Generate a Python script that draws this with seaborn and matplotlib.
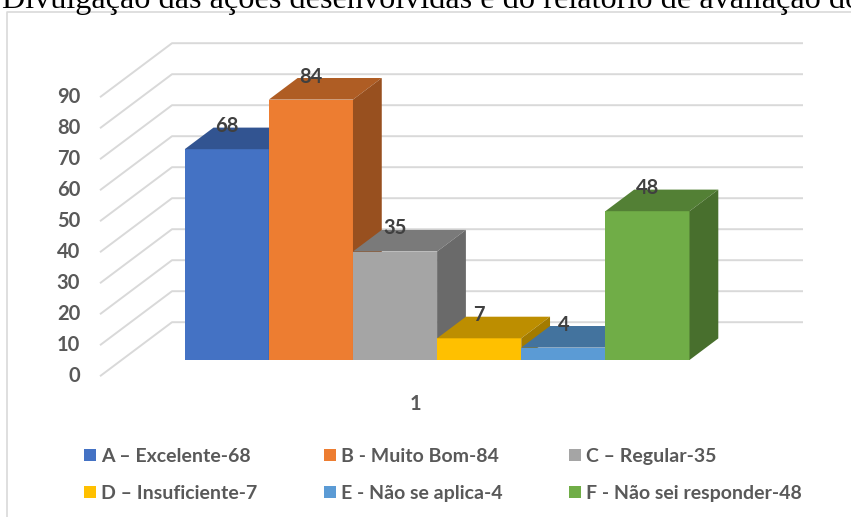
import numpy as np
import pandas as pd
import matplotlib
matplotlib.use("Agg")
import matplotlib.pyplot as plt
import seaborn as sns
from matplotlib.patches import Polygon, Patch
from matplotlib.lines import Line2D
import matplotlib.colors as mcolors

# ---------------- data ----------------
title = "Divulgação das ações desenvolvidas e do relatório de avaliação do"
category = "1"
series = ["A – Excelente-68", "B - Muito Bom-84", "C – Regular-35",
          "D – Insuficiente-7", "E - Não se aplica-4", "F - Não sei responder-48"]
values = [68, 84, 35, 7, 4, 48]
colors = ["#4472C4", "#ED7D31", "#A5A5A5", "#FFC000", "#5B9BD5", "#70AD47"]
yticks = [0, 10, 20, 30, 40, 50, 60, 70, 80, 90]

# ---------------- geometry (pixels) ----------------
W, H = 851, 517
X0PX, XSCALE = 121.6, 631.0      # pixel of x=-0.5, px per x unit
Y0PX, YSCALE = 360.0, 3.1        # pixel of value 0 (bar front), px per value unit
DX, DY = 72.0 / XSCALE, 54.0 / YSCALE   # full depth offset in data units
D_FRONT, D_BACK = 0.3, 0.7      # bar front/back depth fraction

sns.set_theme(style="white")
plt.rcParams["font.family"] = ["Lato", "DejaVu Sans"]

fig = plt.figure(figsize=(W / 100, H / 100), dpi=100)
ax = fig.add_axes([0, 0, 1, 1])

df = pd.DataFrame({"cat": [category] * len(values), "series": series, "value": values})
sns.barplot(data=df, x="cat", y="value", hue="series", hue_order=series,
            palette=colors, width=0.8, dodge=True, saturation=1,
            edgecolor="none", linewidth=0, ax=ax, legend=False, errorbar=None)

xmin = (0 - X0PX) / XSCALE - 0.5
xmax = (W - X0PX) / XSCALE - 0.5
ymin = (Y0PX - H) / YSCALE
ymax = Y0PX / YSCALE
ax.set_xlim(xmin, xmax)
ax.set_ylim(ymin, ymax)
ax.set_axis_off()

def shade(c, f):
    r, g, b = mcolors.to_rgb(c)
    return (r * f, g * f, b * f)

LABEL_FS = 14.5

# gridlines: floor-front -> back wall -> right
grid_c = "#d9d9d9"
xl_front = -0.5 - D_FRONT * DX
xl_back = -0.5 + (1 - D_FRONT) * DX
xr_back = 0.5 + (1 - D_FRONT) * DX
for t in yticks:
    vf = t - D_FRONT * DY
    vb = t + (1 - D_FRONT) * DY
    ax.plot([xl_front, xl_back, xr_back], [vf, vb, vb], color=grid_c, lw=1.4,
            zorder=1, solid_capstyle="butt")
    ax.text(xl_front - 20 / XSCALE, vf, str(t), ha="right", va="center",
            fontsize=LABEL_FS, fontweight="bold", color="#595959")

# category label
ax.text(0 - D_FRONT * DX, -D_FRONT * DY - 28 / YSCALE, category, ha="center",
        va="center", fontsize=LABEL_FS, fontweight="bold", color="#595959")

# 3D faces
bars = sorted(ax.patches, key=lambda p: p.get_x())
dd = D_BACK - D_FRONT
ox, oy = dd * DX, dd * DY
for i, (p, v, c) in enumerate(zip(bars, values, colors)):
    x0 = p.get_x()
    x1 = x0 + p.get_width()
    p.set_zorder(10 + 3 * i)
    top = Polygon([(x0, v), (x1, v), (x1 + ox, v + oy), (x0 + ox, v + oy)],
                  closed=True, facecolor=shade(c, 0.74), edgecolor="none",
                  zorder=11 + 3 * i)
    side = Polygon([(x1, 0), (x1, v), (x1 + ox, v + oy), (x1 + ox, oy)],
                   closed=True, facecolor=shade(c, 0.64), edgecolor="none",
                   zorder=12 + 3 * i)
    ax.add_patch(top)
    ax.add_patch(side)
    ax.text((x0 + x1) / 2, v + 23 / YSCALE, str(v), ha="center", va="center",
            fontsize=LABEL_FS, fontweight="bold", color="#404040", zorder=40)

# legend (row-major order in 3 columns)
handles = [Patch(facecolor=c, edgecolor="none") for c in colors]
order = [0, 3, 1, 4, 2, 5]
fig.legend([handles[k] for k in order], [series[k] for k in order],
           ncol=3, loc="upper left", bbox_to_anchor=(84 / W, 1 - 448 / H),
           frameon=False, borderpad=0, borderaxespad=0,
           handlelength=0.62, handleheight=0.58, handletextpad=0.27,
           columnspacing=3.4, labelspacing=1.02,
           prop={"family": ["Lato", "DejaVu Sans"], "weight": "bold", "size": 14},
           labelcolor="#595959")

# chart frame (left and top border)
fig.add_artist(Line2D([7 / W, 7 / W, 1], [0, 1 - 12 / H, 1 - 12 / H],
                      transform=fig.transFigure, color="#d9d9d9", lw=1.2))

# title (cut at the top like the reference)
fig.text(2 / W, 1 - 8 / H, title, ha="left", va="baseline",
         family=["Liberation Serif", "DejaVu Serif"], fontsize=23.2, color="black")

fig.savefig("out.png", dpi=100, facecolor="white")
